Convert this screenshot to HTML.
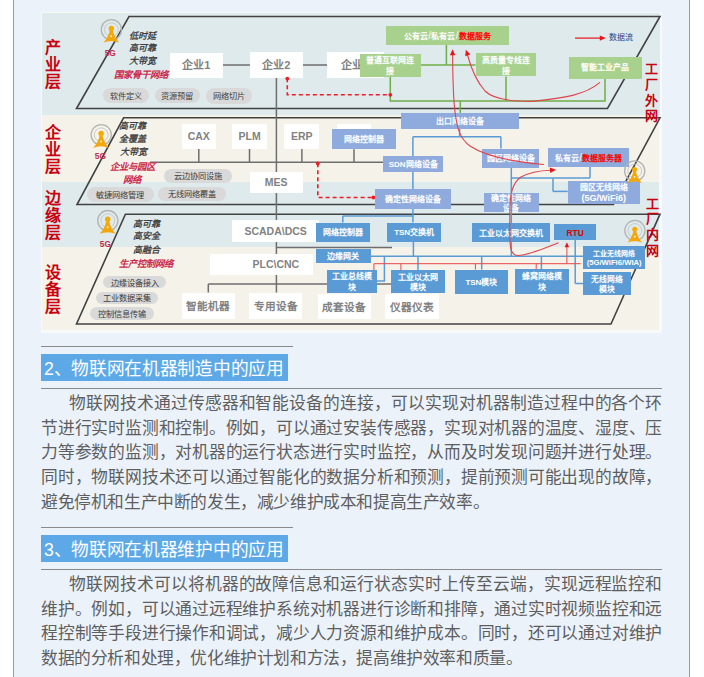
<!DOCTYPE html>
<html lang="zh-CN"><head><meta charset="utf-8">
<style>
*{margin:0;padding:0;box-sizing:border-box}
html,body{width:704px;height:677px;overflow:hidden;background:#fff;font-family:"Liberation Sans",sans-serif}
.wrap{position:absolute;left:13px;top:0;width:677px;height:677px;background:#ebf2fa;border-left:1px solid #62a8e8;border-right:1px solid #62a8e8}
.ab{position:absolute}
.hl{position:absolute;height:1px;background:#8a8a8a}
.hd{position:absolute;left:41px;width:247px;height:27px;background:#5da9e8;color:#fff;font-size:17.7px;letter-spacing:-0.3px;line-height:31.5px;padding-left:3px;white-space:nowrap}
.p{position:absolute;left:41px;width:621px;font-size:16.75px;letter-spacing:-0.4px;line-height:24.7px;color:#5e5e5e;white-space:nowrap}
.p div{height:24.7px;text-align:justify;text-align-last:justify}
.p div.l{text-align-last:justify}
.ht{display:inline-block;width:239.6px;text-align:justify;text-align-last:justify}
.p div.i{padding-left:28px}
.bx{position:absolute;display:flex;align-items:center;justify-content:center;text-align:center;white-space:nowrap;overflow:visible}
.pl{position:absolute;display:flex;align-items:center;justify-content:center;white-space:nowrap;background:#d9d9d9;color:#3c3c3c;font-size:8.2px;font-weight:normal;border-radius:8px;padding-bottom:1.6px}
.sl{font-size:10px;font-weight:normal;margin:0 0.3px}
.it{position:absolute;font-style:italic;white-space:nowrap;line-height:1}
.lab{position:absolute;color:#c8000f;font-weight:bold;white-space:nowrap;text-align:center}
svg{position:absolute;left:0;top:0}
</style></head><body>
<div class="wrap"></div>

<div class="ab" style="left:41px;top:12px;width:621px;height:321px;background:#f8fafa"></div>
<div class="ab" style="left:42px;top:13px;width:618px;height:102px;background:#dfeaec"></div>
<div class="ab" style="left:42px;top:115px;width:617px;height:67px;background:#f5f3e9"></div>
<div class="ab" style="left:42px;top:182px;width:617px;height:65px;background:#dfeaec"></div>
<div class="ab" style="left:42px;top:247px;width:617px;height:83px;background:#f5f3e9"></div>
<svg width="704" height="677" viewBox="0 0 704 677"><polygon points="129,16.5 660,16.5 607.5,108.5 76.5,108.5" fill="none" stroke="#424242" stroke-width="1.6" stroke-linejoin="miter"/><polygon points="123.6,117.8 660,117.8 613.4,204.5 77,204.5" fill="none" stroke="#424242" stroke-width="1.6" stroke-linejoin="miter"/><polygon points="125.4,214.2 660,214.2 611,324 76.5,324" fill="none" stroke="#424242" stroke-width="1.6" stroke-linejoin="miter"/><line x1="222.8" y1="65" x2="249.9" y2="65" stroke="#6e6e6e" stroke-width="1.5" /><line x1="302.6" y1="65" x2="327" y2="65" stroke="#6e6e6e" stroke-width="1.5" /><line x1="276.4" y1="77.6" x2="276.4" y2="292.5" stroke="#6e6e6e" stroke-width="1.5" /><line x1="198.8" y1="148.8" x2="198.8" y2="162.3" stroke="#6e6e6e" stroke-width="1.5" /><line x1="249.5" y1="148.8" x2="249.5" y2="162.3" stroke="#6e6e6e" stroke-width="1.5" /><line x1="301.9" y1="148.8" x2="301.9" y2="162.3" stroke="#6e6e6e" stroke-width="1.5" /><line x1="354" y1="149.2" x2="354" y2="162.3" stroke="#6e6e6e" stroke-width="1.5" /><line x1="150" y1="162.2" x2="383" y2="162.2" stroke="#6e6e6e" stroke-width="1.5" /><line x1="276.7" y1="247.4" x2="392" y2="247.4" stroke="#6e6e6e" stroke-width="1.5" /><line x1="208.3" y1="284" x2="391" y2="284" stroke="#6e6e6e" stroke-width="1.5" /><line x1="208.3" y1="284" x2="208.3" y2="292.5" stroke="#6e6e6e" stroke-width="1.5" /><line x1="446.4" y1="44.9" x2="446.4" y2="65" stroke="#70ad47" stroke-width="1.5" /><line x1="420.7" y1="65" x2="475.5" y2="65" stroke="#70ad47" stroke-width="1.5" /><line x1="390.3" y1="76.9" x2="390.3" y2="101" stroke="#70ad47" stroke-width="1.5" /><line x1="506" y1="76.5" x2="506" y2="101" stroke="#70ad47" stroke-width="1.5" /><line x1="605" y1="78.7" x2="605" y2="101" stroke="#70ad47" stroke-width="1.5" /><line x1="389.6" y1="101" x2="605.7" y2="101" stroke="#70ad47" stroke-width="1.5" /><line x1="460.3" y1="101" x2="460.3" y2="112.9" stroke="#70ad47" stroke-width="1.5" /><line x1="459.6" y1="128.8" x2="459.6" y2="136.8" stroke="#5b9bd5" stroke-width="1.5" /><line x1="412.9" y1="136.8" x2="500.9" y2="136.8" stroke="#5b9bd5" stroke-width="1.5" /><line x1="412.9" y1="136.8" x2="412.9" y2="222.5" stroke="#5b9bd5" stroke-width="1.5" /><line x1="500.9" y1="136.8" x2="500.9" y2="148.5" stroke="#5b9bd5" stroke-width="1.5" /><line x1="511.3" y1="167.5" x2="511.3" y2="257" stroke="#5b9bd5" stroke-width="1.5" /><line x1="511.3" y1="178" x2="590" y2="178" stroke="#5b9bd5" stroke-width="1.5" /><line x1="590" y1="166.8" x2="590" y2="178" stroke="#5b9bd5" stroke-width="1.5" /><line x1="553" y1="178" x2="553" y2="191.4" stroke="#5b9bd5" stroke-width="1.5" /><line x1="553" y1="191.4" x2="567.7" y2="191.4" stroke="#5b9bd5" stroke-width="1.5" /><line x1="342.8" y1="216" x2="413.4" y2="216" stroke="#5b9bd5" stroke-width="1.5" /><line x1="342.8" y1="216" x2="342.8" y2="222.5" stroke="#5b9bd5" stroke-width="1.5" /><line x1="413.4" y1="241.5" x2="413.4" y2="256.3" stroke="#5b9bd5" stroke-width="1.5" /><line x1="370.7" y1="256.3" x2="583.4" y2="256.3" stroke="#5b9bd5" stroke-width="1.5" /><line x1="384.4" y1="256.3" x2="384.4" y2="281" stroke="#5b9bd5" stroke-width="1.5" /><line x1="377" y1="281" x2="385.1" y2="281" stroke="#5b9bd5" stroke-width="1.5" /><line x1="418" y1="256.3" x2="418" y2="270.2" stroke="#5b9bd5" stroke-width="1.5" /><line x1="481.7" y1="256.3" x2="481.7" y2="269.6" stroke="#5b9bd5" stroke-width="1.5" /><line x1="541.4" y1="256.3" x2="541.4" y2="269" stroke="#5b9bd5" stroke-width="1.5" /><line x1="575.2" y1="239.8" x2="575.2" y2="283.5" stroke="#5b9bd5" stroke-width="1.5" /><line x1="575.2" y1="283.5" x2="583.4" y2="283.5" stroke="#5b9bd5" stroke-width="1.5" /><line x1="373.9" y1="263.7" x2="580.6" y2="263.7" stroke="#e8474b" stroke-width="1" /><line x1="373.9" y1="263.7" x2="373.9" y2="270" stroke="#e8474b" stroke-width="1" /><line x1="400.9" y1="263.7" x2="400.9" y2="270.2" stroke="#e8474b" stroke-width="1" /><line x1="475.4" y1="263.7" x2="475.4" y2="269.6" stroke="#e8474b" stroke-width="1" /><line x1="536.2" y1="263.7" x2="536.2" y2="269" stroke="#e8474b" stroke-width="1" /></svg>
<div class="bx" style="left:169.6px;top:52.5px;width:53.2px;height:25.3px;background:#ffffff;color:#828282;font-size:11px;font-weight:bold;line-height:1;padding-top:1px;"><div>企业1</div></div>
<div class="bx" style="left:249.9px;top:52.4px;width:52.7px;height:25.2px;background:#ffffff;color:#828282;font-size:11px;font-weight:bold;line-height:1;padding-top:1px;"><div>企业2</div></div>
<div class="bx" style="left:327px;top:52.4px;width:57.0px;height:25.2px;background:#ffffff;color:#828282;font-size:11px;font-weight:bold;line-height:1;padding-top:1px;"><div>企业3</div></div>
<div class="bx" style="left:182px;top:123.5px;width:33.5px;height:25.3px;background:#ffffff;color:#828282;font-size:10.5px;font-weight:bold;line-height:1;"><div>CAX</div></div>
<div class="bx" style="left:232px;top:123.5px;width:35.4px;height:25.3px;background:#ffffff;color:#828282;font-size:10.5px;font-weight:bold;line-height:1;"><div>PLM</div></div>
<div class="bx" style="left:284px;top:123.5px;width:35.4px;height:25.3px;background:#ffffff;color:#828282;font-size:10.5px;font-weight:bold;line-height:1;"><div>ERP</div></div>
<div class="bx" style="left:336.7px;top:123.5px;width:34.8px;height:25.3px;background:#ffffff;color:#828282;font-size:11.5px;font-weight:bold;line-height:1;"><div></div></div>
<div class="bx" style="left:249.5px;top:171.6px;width:53.5px;height:21.9px;background:#ffffff;color:#828282;font-size:10.5px;font-weight:bold;line-height:1;"><div>MES</div></div>
<div class="bx" style="left:231.9px;top:219.9px;width:87.5px;height:21.9px;background:#ffffff;color:#828282;font-size:10.5px;font-weight:bold;line-height:1;"><div>SCADA\DCS</div></div>
<div class="bx" style="left:210.3px;top:253.7px;width:103.1px;height:21.3px;background:#ffffff;color:#828282;font-size:10.5px;font-weight:bold;line-height:1;padding-left:28px;"><div>PLC\CNC</div></div>
<div class="bx" style="left:181.5px;top:292.5px;width:53.7px;height:26.2px;background:#ffffff;color:#828282;font-size:10.6px;font-weight:bold;line-height:1;padding-top:1px;"><div>智能机器</div></div>
<div class="bx" style="left:249.4px;top:292.5px;width:53.1px;height:26.2px;background:#ffffff;color:#828282;font-size:10.6px;font-weight:bold;line-height:1;padding-top:1px;"><div>专用设备</div></div>
<div class="bx" style="left:317.6px;top:294px;width:53.0px;height:25.3px;background:#ffffff;color:#828282;font-size:10.6px;font-weight:bold;line-height:1;padding-top:1px;"><div>成套设备</div></div>
<div class="bx" style="left:385.1px;top:294px;width:53.7px;height:25.3px;background:#ffffff;color:#828282;font-size:10.6px;font-weight:bold;line-height:1;padding-top:1px;"><div>仪器仪表</div></div>
<div class="bx" style="left:385.5px;top:25.7px;width:123.8px;height:19.2px;background:#a9d18e;color:#fff;font-size:8px;font-weight:bold;line-height:1;padding-top:1.5px;"><div>公有云<span class=sl>/</span>私有云<span class=sl>/</span><span style="color:#f00">数据服务</span></div></div>
<div class="bx" style="left:360.2px;top:53.8px;width:60.5px;height:23.1px;background:#a9d18e;color:#fff;font-size:8px;font-weight:bold;line-height:11px;padding-top:1.5px;"><div>普通互联网连<br>接</div></div>
<div class="bx" style="left:475.5px;top:53.4px;width:60.9px;height:23.1px;background:#a9d18e;color:#fff;font-size:8px;font-weight:bold;line-height:11px;padding-top:1.5px;"><div>高质量专线连<br>接</div></div>
<div class="bx" style="left:568.6px;top:56.5px;width:73.4px;height:22.2px;background:#a9d18e;color:#fff;font-size:8px;font-weight:bold;line-height:1;padding-top:1.5px;"><div>智能工业产品</div></div>
<div class="bx" style="left:400.9px;top:112.9px;width:118.3px;height:15.9px;background:#8fabdd;color:#fff;font-size:8px;font-weight:bold;line-height:1;padding-top:1.5px;"><div>出口网络设备</div></div>
<div class="bx" style="left:332px;top:128.9px;width:64.3px;height:20.3px;background:#8fabdd;color:#fff;font-size:8px;font-weight:bold;line-height:1;padding-top:1.5px;"><div>网络控制器</div></div>
<div class="bx" style="left:383px;top:155.7px;width:60.3px;height:16.6px;background:#8fabdd;color:#fff;font-size:8px;font-weight:bold;line-height:1;padding-top:1.5px;"><div>SDN网络设备</div></div>
<div class="bx" style="left:375.4px;top:188.5px;width:75.2px;height:20.7px;background:#8fabdd;color:#fff;font-size:8px;font-weight:bold;line-height:1;padding-top:1.5px;"><div>确定性网络设备</div></div>
<div class="bx" style="left:481.8px;top:148.5px;width:57.5px;height:19.0px;background:#8fabdd;color:#fff;font-size:8px;font-weight:bold;line-height:1;padding-top:1.5px;"><div>园区网络设备</div></div>
<div class="bx" style="left:548.4px;top:147.7px;width:80.6px;height:19.1px;background:#8fabdd;color:#fff;font-size:8px;font-weight:bold;line-height:1;padding-top:1.5px;"><div>私有云<span class=sl>/</span><span style="color:#f00">数据服务器</span></div></div>
<div class="bx" style="left:567.7px;top:181.1px;width:72.3px;height:22.9px;background:#8fabdd;color:#fff;font-size:8px;font-weight:bold;line-height:11px;padding-top:1.5px;"><div>园区无线网络<br><span style="font-size:9px">(5G/WiFi6)</span></div></div>
<div class="bx" style="left:483.5px;top:192.7px;width:55.8px;height:19.3px;background:#8fabdd;color:#fff;font-size:8px;font-weight:bold;line-height:10px;padding-top:4.2px;"><div>确定性网络<br>设备</div></div>
<div class="bx" style="left:316px;top:222.5px;width:54.0px;height:19.0px;background:#5b9bd5;color:#fff;font-size:8px;font-weight:bold;line-height:1;padding-top:1.5px;"><div>网络控制器</div></div>
<div class="bx" style="left:387.1px;top:222.5px;width:54.1px;height:19.0px;background:#5b9bd5;color:#fff;font-size:8px;font-weight:bold;line-height:1;padding-top:1.5px;"><div>TSN交换机</div></div>
<div class="bx" style="left:471.7px;top:223.3px;width:78.6px;height:19.1px;background:#5b9bd5;color:#fff;font-size:8px;font-weight:bold;line-height:1;padding-top:1.5px;"><div>工业以太网交换机</div></div>
<div class="bx" style="left:554.4px;top:224.3px;width:41.5px;height:15.5px;background:#5b9bd5;color:#e00000;font-size:8.5px;font-weight:bold;line-height:1;padding-top:1.5px;"><div>RTU</div></div>
<div class="bx" style="left:315.6px;top:249.1px;width:55.1px;height:14.3px;background:#5b9bd5;color:#fff;font-size:8px;font-weight:bold;line-height:1;padding-top:1.5px;"><div>边缘网关</div></div>
<div class="bx" style="left:326.5px;top:269.8px;width:50.6px;height:23.5px;background:#5b9bd5;color:#fff;font-size:8px;font-weight:bold;line-height:10.5px;padding-top:2.6px;"><div>工业总线模<br>块</div></div>
<div class="bx" style="left:390.9px;top:270.2px;width:54.6px;height:23.2px;background:#5b9bd5;color:#fff;font-size:8px;font-weight:bold;line-height:10.5px;padding-top:2.6px;"><div>工业以太网<br>模块</div></div>
<div class="bx" style="left:454.9px;top:269.6px;width:53.0px;height:24.9px;background:#5b9bd5;color:#fff;font-size:8px;font-weight:bold;line-height:1;padding-top:1.5px;"><div>TSN模块</div></div>
<div class="bx" style="left:514.5px;top:269px;width:54.7px;height:24.6px;background:#5b9bd5;color:#fff;font-size:8px;font-weight:bold;line-height:10.5px;padding-top:2.6px;"><div>蜂窝网络模<br>块</div></div>
<div class="bx" style="left:583.4px;top:246px;width:61.5px;height:22.7px;background:#5b9bd5;color:#fff;font-size:6.9px;font-weight:bold;line-height:9px;padding-top:1.5px;"><div>工业无线网络<br><span style="font-size:7.7px">(5G/WiFi6/WIA)</span></div></div>
<div class="bx" style="left:583.4px;top:272.4px;width:47.4px;height:22.5px;background:#5b9bd5;color:#fff;font-size:7.8px;font-weight:bold;line-height:9.8px;padding-top:2.8px;"><div>无线网络<br>模块</div></div>
<div class="pl" style="left:103px;top:88.4px;width:45.8px;height:15.0px">软件定义</div>
<div class="pl" style="left:154.7px;top:88.4px;width:45.0px;height:15.1px">资源预留</div>
<div class="pl" style="left:205.8px;top:88.4px;width:46.0px;height:15.3px">网络切片</div>
<div class="pl" style="left:164px;top:168.6px;width:67.6px;height:14.0px">云边协同设施</div>
<div class="pl" style="left:86.6px;top:186.9px;width:67.2px;height:15.0px">敏捷网络管理</div>
<div class="pl" style="left:157.8px;top:186.5px;width:67.8px;height:14.1px">无线网络覆盖</div>
<div class="pl" style="left:103.1px;top:276.4px;width:63.2px;height:11.9px">边缘设备接入</div>
<div class="pl" style="left:96px;top:291.9px;width:62.4px;height:11.9px">工业数据采集</div>
<div class="pl" style="left:89.7px;top:307.1px;width:64.1px;height:12.5px">控制信息传输</div>
<div class="it" style="left:129px;top:31.8px;color:#383838;font-size:9px;font-weight:normal;-webkit-text-stroke:0.3px #3a3a3a">低时延</div>
<div class="it" style="left:129px;top:43.6px;color:#383838;font-size:9px;font-weight:normal;-webkit-text-stroke:0.3px #3a3a3a">高可靠</div>
<div class="it" style="left:129px;top:56.6px;color:#383838;font-size:9px;font-weight:normal;-webkit-text-stroke:0.3px #3a3a3a">大带宽</div>
<div class="it" style="left:113.5px;top:70px;color:#cc2a4e;font-size:9.4px;font-weight:bold">国家骨干网络</div>
<div class="it" style="left:119.4px;top:121.8px;color:#383838;font-size:9px;font-weight:normal;-webkit-text-stroke:0.3px #3a3a3a">高可靠</div>
<div class="it" style="left:119.4px;top:134.9px;color:#383838;font-size:9px;font-weight:normal;-webkit-text-stroke:0.3px #3a3a3a">全覆盖</div>
<div class="it" style="left:120px;top:148.3px;color:#383838;font-size:9px;font-weight:normal;-webkit-text-stroke:0.3px #3a3a3a">大带宽</div>
<div class="it" style="left:109.6px;top:162.4px;color:#cc2a4e;font-size:9.4px;font-weight:bold">企业与园区</div>
<div class="it" style="left:123.4px;top:175px;color:#cc2a4e;font-size:9.4px;font-weight:bold">网络</div>
<div class="it" style="left:132.8px;top:219.5px;color:#383838;font-size:9px;font-weight:normal;-webkit-text-stroke:0.3px #3a3a3a">高可靠</div>
<div class="it" style="left:132.8px;top:232.4px;color:#383838;font-size:9px;font-weight:normal;-webkit-text-stroke:0.3px #3a3a3a">高安全</div>
<div class="it" style="left:132.8px;top:246.3px;color:#383838;font-size:9px;font-weight:normal;-webkit-text-stroke:0.3px #3a3a3a">高融合</div>
<div class="it" style="left:118.9px;top:259.4px;color:#cc2a4e;font-size:9.4px;font-weight:bold">生产控制网络</div>
<div class="lab" style="left:45px;top:38.7px;font-size:16px;line-height:17px">产<br>业<br>层</div>
<div class="lab" style="left:45px;top:123.5px;font-size:16px;line-height:17px">企<br>业<br>层</div>
<div class="lab" style="left:45px;top:189.5px;font-size:16px;line-height:17px">边<br>缘<br>层</div>
<div class="lab" style="left:45px;top:263.8px;font-size:16px;line-height:17px">设<br>备<br>层</div>
<div class="lab" style="left:645.3px;top:61px;font-size:13px;line-height:15.8px">工<br>厂<br>外<br>网</div>
<div class="lab" style="left:645.5px;top:195.6px;font-size:13px;line-height:15.8px">工<br>厂<br>内<br>网</div>
<svg width="704" height="677" viewBox="0 0 704 677"><path d="M287.3,78.2 V94.7 H390.3" fill="none" stroke="#ee1c24" stroke-width="1.6" stroke-dasharray="4,3"/><circle cx="287.3" cy="78.6" r="1.9" fill="#ee1c24"/><circle cx="390.3" cy="94.8" r="1.9" fill="#ee1c24"/><path d="M317.8,163.3 V197.5 H373.4" fill="none" stroke="#ee1c24" stroke-width="1.6" stroke-dasharray="4,3"/><circle cx="317.8" cy="163.5" r="1.9" fill="#ee1c24"/><circle cx="373.4" cy="197.5" r="1.9" fill="#ee1c24"/><path d="M544,164.5 C515,162 485,156 470,146 C460,139 457,128 455,112 C453.5,100 452.8,80 452.6,54" fill="none" stroke="#e0434b" stroke-width="1.1"/><path d="M600,82.4 C585,95 565,98 532,101.4 C510,101.5 493,99 485,91 C477,82 471,68 467.5,55" fill="none" stroke="#e0434b" stroke-width="1.1"/><path d="M558.5,242.7 C545,248 530,255 518,255.5 C511,255.5 509.8,248 509.8,235 L509.8,212 C509.8,195 512,183 521,177 C530,172 540,170.5 550.5,170.2" fill="none" stroke="#e0434b" stroke-width="1.1"/><polygon points="452.6,49.2 455.3,55.2 449.9,55.2" fill="#e8141c"/><polygon points="465.9,49.7 470.3,54.6 465.2,56.2" fill="#e8141c"/><polygon points="556.0,169.8 550.2,172.9 549.8,167.5" fill="#e8141c"/><line x1="575" y1="38.1" x2="601" y2="38.1" stroke="#e8141c" stroke-width="1.2" /><polygon points="605.8,38.1 599.8,40.8 599.8,35.4" fill="#e8141c"/><line x1="566.9" y1="263.7" x2="566.9" y2="247" stroke="#e8474b" stroke-width="1" /><line x1="511.6" y1="192.7" x2="511.6" y2="212" stroke="#5b9bd5" stroke-width="1.2" /><polygon points="566.9,242.2 569.1,247.2 564.6,247.2" fill="#e8141c"/></svg>
<div class="it" style="left:608.5px;top:34.3px;color:#2e3f86;font-size:8px;font-style:normal">数据流</div>
<svg width="704" height="677" viewBox="0 0 704 677"><circle cx="111.39999999999999" cy="29.7" r="10.10" fill="none" stroke="#b3b3b3" stroke-width="1.3"/><circle cx="111.39999999999999" cy="29.7" r="6.90" fill="none" stroke="#c9c9c9" stroke-width="1"/><path d="M110.03,29.87 Q108.36,37.71 103.46,42.61 Q111.30,39.38 119.14,42.61 Q114.24,37.71 112.57,29.87 Z" fill="#f3a70a"/><circle cx="111.3" cy="28.4" r="2.69" fill="#f5ab08"/><circle cx="111.3" cy="36.24" r="0.93" fill="#fff5dc"/><circle cx="101.19999999999999" cy="134.8" r="10.10" fill="none" stroke="#b3b3b3" stroke-width="1.3"/><circle cx="101.19999999999999" cy="134.8" r="6.90" fill="none" stroke="#c9c9c9" stroke-width="1"/><path d="M99.80,135.00 Q98.10,143.00 93.10,148.00 Q101.10,144.70 109.10,148.00 Q104.10,143.00 102.40,135.00 Z" fill="#f3a70a"/><circle cx="101.1" cy="133.5" r="2.75" fill="#f5ab08"/><circle cx="101.1" cy="141.50" r="0.95" fill="#fff5dc"/><circle cx="107.8" cy="220.60000000000002" r="10.10" fill="none" stroke="#b3b3b3" stroke-width="1.3"/><circle cx="107.8" cy="220.60000000000002" r="6.90" fill="none" stroke="#c9c9c9" stroke-width="1"/><path d="M106.40,220.80 Q104.70,228.80 99.70,233.80 Q107.70,230.50 115.70,233.80 Q110.70,228.80 109.00,220.80 Z" fill="#f3a70a"/><circle cx="107.7" cy="219.3" r="2.75" fill="#f5ab08"/><circle cx="107.7" cy="227.30" r="0.95" fill="#fff5dc"/><circle cx="634.7" cy="170.9" r="10.10" fill="none" stroke="#b3b3b3" stroke-width="1.3"/><circle cx="634.7" cy="170.9" r="6.90" fill="none" stroke="#c9c9c9" stroke-width="1"/><path d="M633.40,170.98 Q631.84,178.34 627.24,182.94 Q634.60,179.90 641.96,182.94 Q637.36,178.34 635.80,170.98 Z" fill="#f3a70a"/><circle cx="634.6" cy="169.6" r="2.53" fill="#f5ab08"/><circle cx="634.6" cy="176.96" r="0.87" fill="#fff5dc"/><circle cx="634.9" cy="230.5" r="10.10" fill="none" stroke="#b3b3b3" stroke-width="1.3"/><circle cx="634.9" cy="230.5" r="6.90" fill="none" stroke="#c9c9c9" stroke-width="1"/><path d="M633.60,230.58 Q632.04,237.94 627.44,242.54 Q634.80,239.50 642.16,242.54 Q637.56,237.94 636.00,230.58 Z" fill="#f3a70a"/><circle cx="634.8" cy="229.2" r="2.53" fill="#f5ab08"/><circle cx="634.8" cy="236.56" r="0.87" fill="#fff5dc"/></svg>
<div class="it" style="left:104.7px;top:48.8px;color:#c42a50;font-size:8.3px;font-weight:bold;font-style:normal">5G</div>
<div class="it" style="left:94.8px;top:151.6px;color:#c42a50;font-size:8.3px;font-weight:bold;font-style:normal">5G</div>
<div class="it" style="left:99.8px;top:239.6px;color:#c42a50;font-size:8.3px;font-weight:bold;font-style:normal">5G</div>

<div class="hl" style="left:41px;top:346px;width:252px"></div>
<div class="hd" style="top:354px"><span class="ht">2、物联网在机器制造中的应用</span></div>
<div class="hl" style="left:41px;top:388px;width:621px"></div>
<div class="p" style="top:392px">
<div class="i">物联网技术通过传感器和智能设备的连接，可以实现对机器制造过程中的各个环</div>
<div>节进行实时监测和控制。例如，可以通过安装传感器，实现对机器的温度、湿度、压</div>
<div>力等参数的监测，对机器的运行状态进行实时监控，从而及时发现问题并进行处理。</div>
<div>同时，物联网技术还可以通过智能化的数据分析和预测，提前预测可能出现的故障，</div>
<div class="l" style="width:448.2px">避免停机和生产中断的发生，减少维护成本和提高生产效率。</div>
</div>
<div class="hl" style="left:41px;top:527px;width:252px"></div>
<div class="hd" style="top:535px"><span class="ht">3、物联网在机器维护中的应用</span></div>
<div class="hl" style="left:41px;top:569px;width:621px"></div>
<div class="p" style="top:573px">
<div class="i">物联网技术可以将机器的故障信息和运行状态实时上传至云端，实现远程监控和</div>
<div>维护。例如，可以通过远程维护系统对机器进行诊断和排障，通过实时视频监控和远</div>
<div>程控制等手段进行操作和调试，减少人力资源和维护成本。同时，还可以通过对维护</div>
<div class="l" style="width:481.4px">数据的分析和处理，优化维护计划和方法，提高维护效率和质量。</div>
</div>
</body></html>
